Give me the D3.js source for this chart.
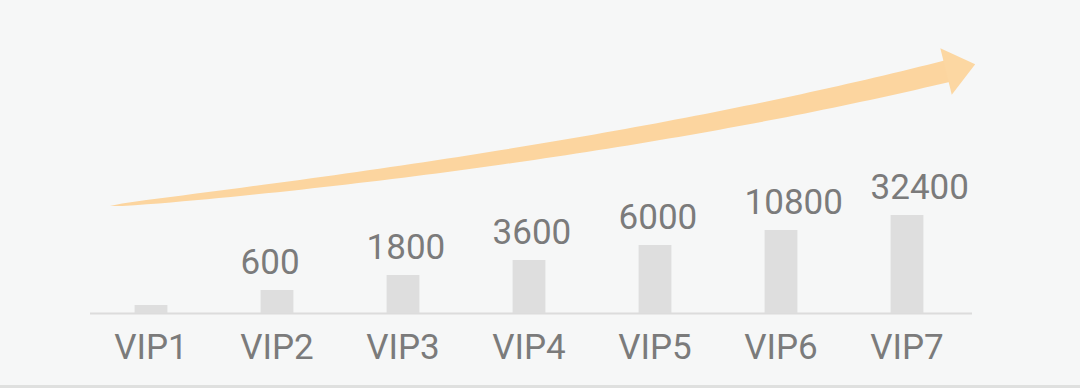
<!DOCTYPE html>
<html>
<head>
<meta charset="utf-8">
<script src="https://cdn.jsdelivr.net/npm/d3@7"></script>
<style>
html,body{margin:0;padding:0;background:#f6f7f7;}
svg{display:block;}
</style>
</head>
<body>
<div id="chart"></div>
<script>
const categories = ["VIP1","VIP2","VIP3","VIP4","VIP5","VIP6","VIP7"];
const values = [null, 600, 1800, 3600, 6000, 10800, 32400];
const levels = [1, 2, 3, 4, 5, 6, 7];

const W = 1080, H = 388;
const baseline = 313;

const svg = d3.select("#chart").append("svg")
  .attr("width", W).attr("height", H);

svg.append("rect").attr("width", W).attr("height", H).attr("fill", "#f6f7f7");
svg.append("rect").attr("x", 0).attr("y", 385).attr("width", W).attr("height", 3).attr("fill", "#dfe0df");

const x = d3.scaleBand().domain(categories).range([88, 970])
  .paddingInner(0.74).paddingOuter(0.37);
const y = d3.scaleLinear().domain([1, 7]).range([baseline - 8, baseline - 98]);

// growth arrow (decoration)
(function drawArrow(){
  const P0 = [110, 206], P1 = [600, 156.5], P2 = [948, 71];
  const pt = t => [
    (1-t)*(1-t)*P0[0] + 2*t*(1-t)*P1[0] + t*t*P2[0],
    (1-t)*(1-t)*P0[1] + 2*t*(1-t)*P1[1] + t*t*P2[1]
  ];
  const der = t => [
    2*(1-t)*(P1[0]-P0[0]) + 2*t*(P2[0]-P1[0]),
    2*(1-t)*(P1[1]-P0[1]) + 2*t*(P2[1]-P1[1])
  ];
  const maxW = 22;
  const up = [], dn = [];
  const N = 80;
  for (let i = 0; i <= N; i++) {
    const t = i / N;
    const p = pt(t), d = der(t);
    const len = Math.hypot(d[0], d[1]);
    const nx = -d[1]/len, ny = d[0]/len;
    const w = maxW * Math.pow(t, 0.5) / 2;
    up.push([p[0] - nx*w, p[1] - ny*w]);
    dn.push([p[0] + nx*w, p[1] + ny*w]);
  }
  const poly = up.concat(dn.reverse());
  svg.append("path")
    .attr("d", "M" + poly.map(p => p[0].toFixed(2) + "," + p[1].toFixed(2)).join("L") + "Z")
    .attr("fill", "#fcd59f");
  const d = der(1); const len = Math.hypot(d[0], d[1]);
  const ux = d[0]/len, uy = d[1]/len, nx = -uy, ny = ux;
  const hb = [P2[0] - ux*2, P2[1] - uy*2];
  const hw = 24, hl = 30;
  const head = [
    [hb[0] - nx*hw, hb[1] - ny*hw],
    [hb[0] + ux*hl, hb[1] + uy*hl],
    [hb[0] + nx*hw, hb[1] + ny*hw]
  ];
  svg.append("path")
    .attr("d", "M" + head.map(p => p[0].toFixed(2) + "," + p[1].toFixed(2)).join("L") + "Z")
    .attr("fill", "#fcd7a2");
})();

// axis line
svg.append("line")
  .attr("x1", 90).attr("x2", 972)
  .attr("y1", baseline + 0.5).attr("y2", baseline + 0.5)
  .attr("stroke", "#dcdcdc").attr("stroke-width", 2);

// bars
svg.selectAll("rect.bar").data(categories).enter().append("rect")
  .attr("class", "bar")
  .attr("x", d => x(d))
  .attr("width", x.bandwidth())
  .attr("y", (d, i) => y(levels[i]))
  .attr("height", (d, i) => baseline - y(levels[i]))
  .attr("fill", "#dedede");

// value labels (left-aligned a little before each bar)
svg.selectAll("text.val").data(categories).enter()
  .filter((d, i) => values[i] !== null)
  .append("text")
  .attr("class", "val")
  .attr("x", d => x(d) - 20)
  .attr("y", d => y(levels[categories.indexOf(d)]) - 16)
  .attr("text-anchor", "start")
  .attr("font-family", "Roboto, 'Noto Sans', sans-serif")
  .attr("font-size", 35)
  .attr("fill", "#7b7b7b")
  .text(d => values[categories.indexOf(d)]);

// category labels via axis
const axis = d3.axisBottom(x).tickSize(0).tickPadding(0);
const g = svg.append("g").attr("transform", `translate(0,${baseline})`).call(axis);
g.select(".domain").remove();
g.selectAll("text")
  .attr("y", 46)
  .attr("dy", 0)
  .attr("font-family", "Roboto, 'Noto Sans', sans-serif")
  .attr("font-size", 35)
  .attr("fill", "#7b7b7b");
</script>
</body>
</html>
